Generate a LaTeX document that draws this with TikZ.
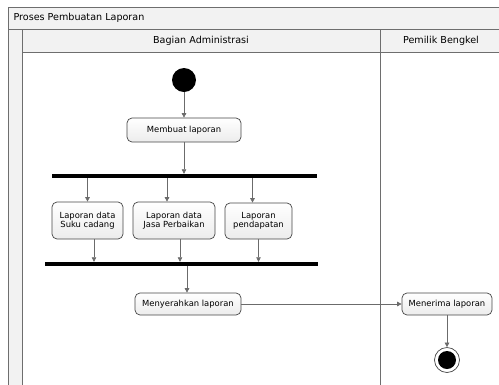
\documentclass[tikz,border=0pt]{standalone}
\usepackage{fontspec}
\setmainfont{DejaVu Sans}
\usepackage{tikz}
\usetikzlibrary{arrows.meta, positioning, calc}
\definecolor{laneline}{RGB}{110,110,110}
\definecolor{lanefill}{RGB}{242,242,242}
\definecolor{actborder}{RGB}{70,70,70}
\definecolor{actfill}{RGB}{248,248,248}

\begin{document}
\begin{tikzpicture}[
    x=1pt, y=-1pt,
    font=\fontsize{8.4}{9.6}\selectfont,
    >={Triangle[length=4.5pt, width=4.5pt]},
    act_box/.style={rectangle, rounded corners=5pt, draw=actborder, line width=0.7pt, top color=white, bottom color=actfill!90!gray, align=center, inner sep=2pt},
    bar/.style={rectangle, fill=black, inner sep=0pt, minimum height=4pt},
    arrow/.style={->, line width=0.6pt, draw=actborder!80},
    lane/.style={draw=laneline, line width=0.8pt},
    lane_title/.style={font=\fontsize{9.6}{11}\selectfont}
]
\useasboundingbox (0,0) rectangle (499,384);

% Pool and lanes
\fill[lanefill] (8,7) rectangle (505,29);
\fill[lanefill] (8,29) rectangle (22,390);
\fill[lanefill] (22,29) rectangle (505,52);
\draw[lane] (505,7) -- (8,7) -- (8,390);
\draw[lane] (8,29) -- (505,29);
\draw[lane] (22,52) -- (505,52);
\draw[lane] (22,29) -- (22,390);
\draw[lane] (380,29) -- (380,390);

\node[lane_title, anchor=west] (pool) at (10,18) {Proses Pembuatan Laporan};
\node[lane_title] (admin) at (201,41) {Bagian Administrasi};
\node[lane_title] (owner) at (441,41) {Pemilik Bengkel};

% Start
\node[circle, fill=black, minimum size=24pt, inner sep=0pt] (start) at (184,80) {};

% Membuat laporan
\node[act_box, minimum width=114pt, minimum height=24pt] (buat) at (184,130) {Membuat laporan};

% Fork
\node[bar, minimum width=265pt] (fork) at (184.5,176) {};

% Parallel reports
\node[act_box, minimum width=71pt, minimum height=37pt] (suku) at (87.5,220.5) {Laporan data\\Suku cadang};
\node[act_box, minimum width=82pt, minimum height=37pt] (jasa) at (174,220.5) {Laporan data\\Jasa Perbaikan};
\node[act_box, minimum width=67pt, minimum height=36pt] (dapat) at (258.5,221) {Laporan\\pendapatan};

% Join
\node[bar, minimum width=273pt] (join) at (181.5,264) {};

% Menyerahkan / Menerima
\node[act_box, minimum width=106pt, minimum height=22pt] (serah) at (188,304) {Menyerahkan laporan};
\node[act_box, minimum width=90pt, minimum height=22pt] (terima) at (447,304) {Menerima laporan};

% End
\node[circle, draw=actborder, line width=0.7pt, fill=white, minimum size=25pt, inner sep=0pt] (end) at (447,360) {};
\node[circle, fill=black, minimum size=18pt, inner sep=0pt] (endin) at (end) {};

% Arrows
\draw[arrow] (start) -- (buat);
\draw[arrow] (buat.south) -- (buat.south |- fork.north);

\draw[arrow] (fork.south -| suku.north) -- (suku.north);
\draw[arrow] ([xshift=-7pt]jasa.north |- fork.south) -- ([xshift=-7pt]jasa.north);
\draw[arrow] ([xshift=-6pt]dapat.north |- fork.south) -- ([xshift=-6pt]dapat.north);

\draw[arrow] ([xshift=6.5pt]suku.south) -- ([xshift=6.5pt]suku.south |- join.north);
\draw[arrow] ([xshift=6pt]jasa.south) -- ([xshift=6pt]jasa.south |- join.north);
\draw[arrow] (dapat.south) -- (dapat.south |- join.north);

\draw[arrow] ([xshift=-1pt]serah.north |- join.south) -- ([xshift=-1pt]serah.north);
\draw[arrow] (serah) -- (terima);
\draw[arrow] (terima) -- (end);

\end{tikzpicture}
\end{document}
